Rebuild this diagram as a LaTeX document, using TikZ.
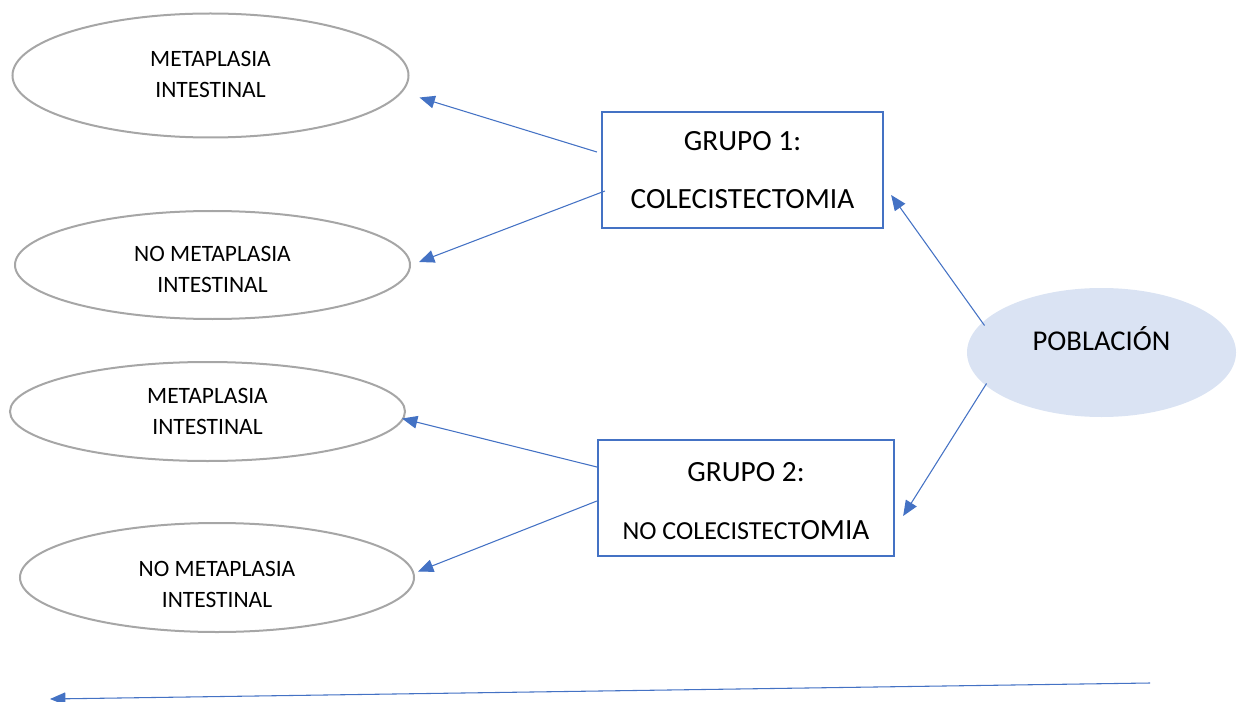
\documentclass[tikz,border=0pt]{standalone}
\usepackage{fontspec}
\setmainfont{Carlito}
\usetikzlibrary{shapes.geometric,arrows.meta,calc}
\definecolor{obl}{HTML}{4472C4}
\definecolor{ogr}{HTML}{A6A6A6}
\definecolor{olb}{HTML}{DAE3F3}
\begin{document}
\begin{tikzpicture}[x=0.75pt,y=-0.75pt,
  resnode/.style={ellipse,draw=ogr,line width=1.5pt,inner sep=0pt},
  restext/.style={align=center,font=\fontsize{17.6}{23.2}\selectfont},
  grpbox/.style={rectangle,draw=obl,line width=1.7pt,inner sep=0pt,align=center,
    font=\fontsize{22}{44}\selectfont},
  conn/.style={draw=obl,line width=0.8pt,-{Triangle[length=11.5pt,width=9.5pt]}}]
\useasboundingbox (0,0) rectangle (1237,702);
% result ellipses
\node[resnode,minimum width=396*0.75pt,minimum height=124*0.75pt,
  label={[restext,yshift=1pt]center:{METAPLASIA\\INTESTINAL}}] (e1) at (210.5,75.5) {};
\node[resnode,minimum width=395*0.75pt,minimum height=108*0.75pt,
  label={[restext,yshift=-3.5pt]center:{NO METAPLASIA\\INTESTINAL}}] (e2) at (212.5,265) {};
\node[resnode,minimum width=395*0.75pt,minimum height=99*0.75pt,
  label={[restext,yshift=-0.3pt]center:{METAPLASIA\\INTESTINAL}}] (e3) at (207.5,411.5) {};
\node[resnode,minimum width=394*0.75pt,minimum height=109*0.75pt,
  label={[restext,yshift=-5pt]center:{NO METAPLASIA\\INTESTINAL}}] (e4) at (217,577.5) {};
% group boxes
\node[grpbox,minimum width=281*0.75pt,minimum height=116*0.75pt] (b1) at (742.5,170) {GRUPO 1:\\COLECISTECTOMIA};
\node[grpbox,minimum width=296*0.75pt,minimum height=116*0.75pt,
  label={[align=center,font=\fontsize{22}{44}\selectfont,yshift=-2.2pt]center:{GRUPO 2:\\{\fontsize{19.5}{44}\selectfont NO COLECISTECT}OMIA}}] (b2) at (746,498) {};
% population
\node[ellipse,fill=olb,draw=none,minimum width=269*0.75pt,minimum height=129*0.75pt,inner sep=0pt,
  label={[font=\fontsize{21.5}{26}\selectfont,yshift=10.2pt]center:POBLACIÓN}] (pob) at (1101.5,352.5) {};
% connectors
\draw[conn] ($(b1.west)+(-4,-18)$) -- ($(e1.east)+(10,22)$);
\draw[conn] ($(b1.west)+(4,21)$) -- ($(e2.east)+(8,-3)$);
\draw[conn] ($(b2.west)+(0,-31)$) -- ($(e3.east)+(-4,7)$);
\draw[conn] ($(b2.west)+(0,3)$) -- ($(e4.east)+(3,-6)$);
\draw[conn] ($(pob.center)+(-117,-27)$) -- ($(b1.east)+(7,25)$);
\draw[conn] ($(pob.center)+(-115,31)$) -- ($(b2.east)+(8,18)$);
\coordinate (ls) at (1150,683);
\coordinate (le) at (50,699);
\draw[conn] (ls) -- (le);
\end{tikzpicture}
\end{document}
